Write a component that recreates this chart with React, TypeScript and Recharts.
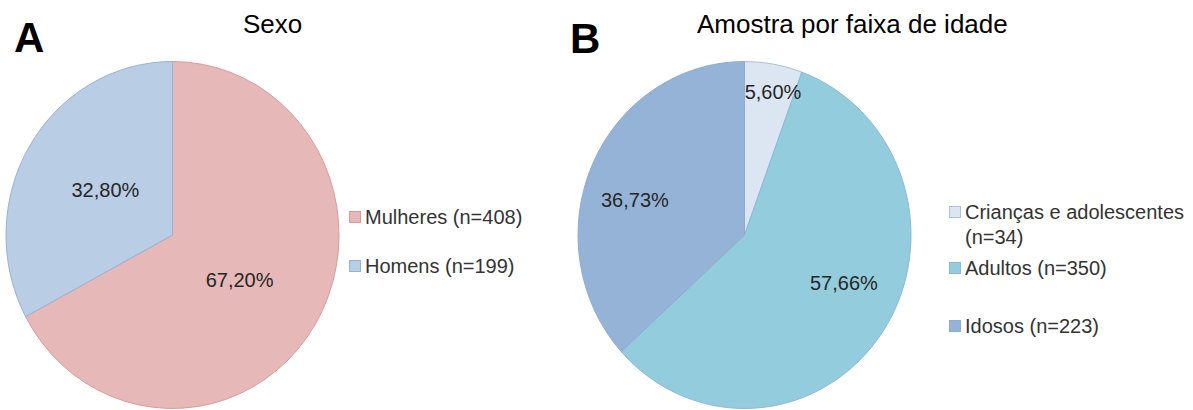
import React from "react";
import { PieChart, Pie, Cell, Legend } from "recharts";

// panel A - sexo
const sexNames = ["Mulheres", "Homens"];
const sexCounts = [408, 199];
const sexPct = [67.2, 32.8];

// panel B - faixa de idade
const ageNames = ["Crianças e adolescentes", "Adultos", "Idosos"];
const ageCounts = [34, 350, 223];
const agePct = [5.6, 57.66, 36.73];

const sexFills = ["#E6B9B8", "#B9CDE5"];
const sexStrokes = ["#D99A98", "#95B3D7"];
const ageFills = ["#DCE6F2", "#93CDDD", "#95B3D7"];
const ageStrokes = ["#A9C0DE", "#8FB6D8", "#8FABD3"];

const FONT = "'Liberation Sans', Arial, sans-serif";
const RAD = Math.PI / 180;
const Y_STRETCH = 1.042; // the original pies are slightly taller than wide

const fmtPct = (v: number) => v.toFixed(2).replace(".", ",") + "%";

const sexData = sexNames.map((name, i) => ({ name, value: sexPct[i] }));
const ageData = ageNames.map((name, i) => ({ name, value: agePct[i] }));

// elliptical sector, same angles as recharts' own Sector
const ellipseSector = (p: any) => {
  const { cx, cy, outerRadius, startAngle, endAngle, fill, stroke } = p;
  const rx = outerRadius;
  const ry = outerRadius * Y_STRETCH;
  const pt = (a: number) => [cx + rx * Math.cos(-a * RAD), cy + ry * Math.sin(-a * RAD)];
  const [x1, y1] = pt(startAngle);
  const [x2, y2] = pt(endAngle);
  const large = Math.abs(endAngle - startAngle) > 180 ? 1 : 0;
  const sweep = startAngle > endAngle ? 1 : 0;
  return (
    <path
      d={`M${cx},${cy} L${x1},${y1} A${rx},${ry} 0 ${large} ${sweep} ${x2},${y2} Z`}
      fill={fill}
      stroke={stroke}
      strokeWidth={1}
    />
  );
};

const makeLabel = (fx: number, fy: number) => (p: any) => {
  const { cx, cy, midAngle, outerRadius, percent, value } = p;
  const small = percent < 0.1;
  const kx = small ? 0.98 : fx;
  const ky = small ? 0.84 : fy;
  const x = cx + outerRadius * kx * Math.cos(-midAngle * RAD);
  const y = cy + outerRadius * Y_STRETCH * ky * Math.sin(-midAngle * RAD);
  return (
    <text
      x={x}
      y={y}
      textAnchor="middle"
      dominantBaseline="central"
      fontSize={20}
      fontFamily={FONT}
      fill="#262626"
    >
      {fmtPct(value)}
    </text>
  );
};

function LegendList({
  names,
  counts,
  fills,
  strokes,
  rows,
}: {
  names: string[];
  counts: number[];
  fills: string[];
  strokes: string[];
  rows: number[];
}) {
  return (
    <div style={{ position: "relative", width: 245, height: 160, fontSize: 20, color: "#333", fontFamily: FONT }}>
      {names.map((n, i) => (
        <div key={n} style={{ position: "absolute", left: 0, top: rows[i] - 12.5, display: "flex" }}>
          <span
            style={{
              width: 12,
              height: 12,
              marginTop: 6.5,
              boxSizing: "border-box",
              background: fills[i],
              border: `1px solid ${strokes[i]}`,
              flex: "none",
            }}
          />
          <span style={{ marginLeft: 4, lineHeight: "25px", width: 226 }}>{`${n} (n=${counts[i]})`}</span>
        </div>
      ))}
    </div>
  );
}

export default function App() {
  return (
    <div
      style={{
        position: "absolute",
        left: 0,
        top: 0,
        width: 1193,
        height: 410,
        background: "#fff",
        overflow: "hidden",
        fontFamily: FONT,
      }}
    >
      <div style={{ position: "absolute", left: 0, top: 0 }}>
        <PieChart width={560} height={410} margin={{ top: 0, right: 0, bottom: 0, left: 0 }}>
          <Pie
            data={sexData}
            dataKey="value"
            nameKey="name"
            cx={172.5}
            cy={235}
            outerRadius={166.5}
            startAngle={90}
            endAngle={-270}
            isAnimationActive={false}
            labelLine={false}
            label={makeLabel(0.47, 0.5)}
            shape={ellipseSector}
          >
            {sexData.map((d, i) => (
              <Cell key={d.name} fill={sexFills[i]} stroke={sexStrokes[i]} />
            ))}
          </Pie>
          <Legend
            layout="vertical"
            align="right"
            verticalAlign="top"
            wrapperStyle={{ left: 349, top: 200, right: "auto", width: 210 }}
            content={() => (
              <LegendList names={sexNames} counts={sexCounts} fills={sexFills} strokes={sexStrokes} rows={[17, 66]} />
            )}
          />
        </PieChart>
      </div>

      <div style={{ position: "absolute", left: 560, top: 0 }}>
        <PieChart width={633} height={410} margin={{ top: 0, right: 0, bottom: 0, left: 0 }}>
          <Pie
            data={ageData}
            dataKey="value"
            nameKey="name"
            cx={184.5}
            cy={235}
            outerRadius={166.5}
            startAngle={90}
            endAngle={-270}
            isAnimationActive={false}
            labelLine={false}
            label={makeLabel(0.72, 0.5)}
            shape={ellipseSector}
          >
            {ageData.map((d, i) => (
              <Cell key={d.name} fill={ageFills[i]} stroke={ageStrokes[i]} />
            ))}
          </Pie>
          <Legend
            layout="vertical"
            align="right"
            verticalAlign="top"
            wrapperStyle={{ left: 389, top: 195, right: "auto", width: 244 }}
            content={() => (
              <LegendList names={ageNames} counts={ageCounts} fills={ageFills} strokes={ageStrokes} rows={[17, 73, 131]} />
            )}
          />
        </PieChart>
      </div>

      <svg
        width={1193}
        height={410}
        style={{ position: "absolute", left: 0, top: 0, pointerEvents: "none" }}
        fontFamily={FONT}
      >
        <text x={14} y={52} fontSize={42} fontWeight="bold" fill="#000">A</text>
        <text x={570} y={53} fontSize={42} fontWeight="bold" fill="#000">B</text>
        <text x={243} y={33} fontSize={26} fill="#000">Sexo</text>
        <text x={697} y={33} fontSize={26} fill="#000">Amostra por faixa de idade</text>
      </svg>
    </div>
  );
}
